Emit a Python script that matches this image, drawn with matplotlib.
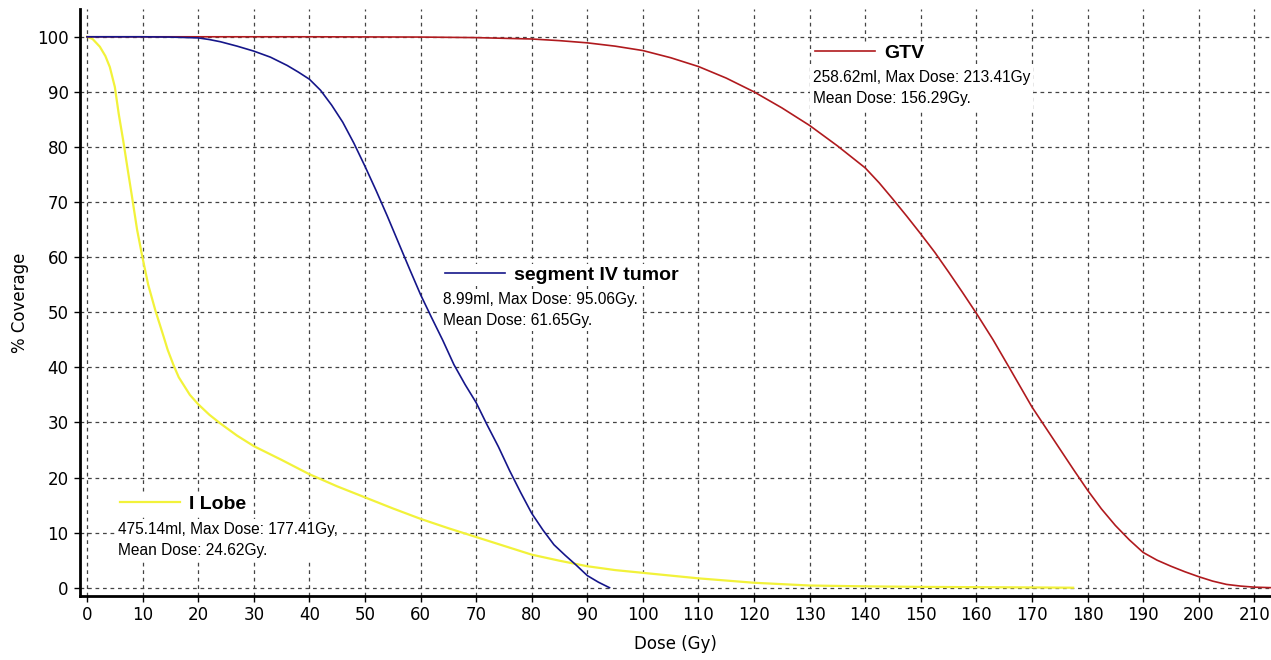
import matplotlib.pyplot as plt

# dose volume histogram values
gtv_dose = [0, 20, 40, 60, 70, 80, 85, 90, 95, 100, 105, 110, 115, 120, 125, 130,
            135, 140, 142.5, 145, 147.5, 150, 152.5, 155, 157.5, 160, 163, 166,
            168, 170, 172.5, 175, 177.5, 180, 182.5, 185, 187.5, 190, 192.5, 195,
            197.5, 200, 202.5, 205, 207.5, 210, 213.4]
gtv_cov = [100, 100, 100, 99.95, 99.85, 99.6, 99.3, 98.9, 98.3, 97.5, 96.2, 94.6,
           92.5, 90.0, 87.1, 83.9, 80.2, 76.2, 73.5, 70.5, 67.4, 64.2, 60.9, 57.3,
           53.6, 49.8, 45.0, 39.8, 36.3, 32.8, 29.0, 25.2, 21.4, 17.7, 14.3, 11.3,
           8.7, 6.4, 5.0, 3.9, 2.9, 2.0, 1.2, 0.6, 0.3, 0.1, 0]

seg_dose = [0, 10, 15, 20, 22, 24, 27, 30, 33, 36, 38, 40, 42, 44, 46, 48, 50,
            52, 54, 56, 58, 60, 62, 64, 66, 68, 70, 72, 74, 76, 78, 80, 82, 84,
            86, 88, 90, 92, 94]
seg_cov = [100, 100, 99.95, 99.8, 99.5, 99.1, 98.3, 97.4, 96.3, 94.8, 93.6, 92.3,
           90.3, 87.6, 84.5, 80.7, 76.5, 72.1, 67.5, 62.7, 57.9, 53.2, 49.0, 44.9,
           40.5, 36.9, 33.6, 29.5, 25.6, 21.3, 17.3, 13.5, 10.5, 7.8, 5.9, 4.1,
           2.2, 1.0, 0]

lobe_dose = [0, 1, 2.3, 3.3, 4.1, 5.0, 5.7, 6.5, 7.3, 8.1, 9.0, 9.9, 11.0, 12.3,
             13.8, 14.5, 15.6, 16.5, 18.5, 20, 22, 24, 27, 30, 35, 40, 45, 50, 55,
             60, 65, 70, 75, 80, 85, 90, 95, 100, 110, 120, 130, 140, 150, 160,
             170, 177.4]
lobe_cov = [100, 99.6, 98.2, 96.5, 94.5, 90.9, 86, 81.2, 76, 70.9, 65, 60.3, 55,
            50.3, 45.5, 43.2, 40.3, 38.2, 35.0, 33.3, 31.4, 29.8, 27.6, 25.7, 23.2,
            20.6, 18.4, 16.4, 14.4, 12.5, 10.8, 9.2, 7.6, 6.0, 4.9, 3.9, 3.2, 2.7,
            1.7, 0.9, 0.4, 0.25, 0.15, 0.1, 0.05, 0]

names = ["GTV", "segment IV tumor", "I Lobe"]
stats = ["258.62ml, Max Dose: 213.41Gy\nMean Dose: 156.29Gy.",
         "8.99ml, Max Dose: 95.06Gy.\nMean Dose: 61.65Gy.",
         "475.14ml, Max Dose: 177.41Gy,\nMean Dose: 24.62Gy."]
colors = ["#B01A1E", "#15168A", "#F2F23A"]

x_ticks = list(range(0, 220, 10))
y_ticks = list(range(0, 110, 10))

fig = plt.figure(figsize=(12.71, 6.6), dpi=100)
ax = fig.add_axes([0.0628, 0.097, 0.9372, 0.889])

l_gtv, = ax.plot(gtv_dose, gtv_cov, color=colors[0], lw=1.2, clip_on=False, zorder=4)
l_seg, = ax.plot(seg_dose, seg_cov, color=colors[1], lw=1.2, clip_on=False, zorder=4)
l_lobe, = ax.plot(lobe_dose, lobe_cov, color=colors[2], lw=1.6, clip_on=False, zorder=3)

ax.set_xlim(-1.3, 213)
ax.set_ylim(-1.5, 105)
ax.set_xticks(x_ticks)
ax.set_yticks(y_ticks)
ax.grid(True, linestyle=(0, (3, 3)), color="#444444", lw=0.9)
ax.set_axisbelow(True)

for side in ["top", "right"]:
    ax.spines[side].set_visible(False)
for side in ["left", "bottom"]:
    ax.spines[side].set_linewidth(2)
ax.tick_params(direction="out", length=4, width=1, labelsize=12)
ax.tick_params(axis="y", pad=4)
ax.tick_params(axis="x", pad=3)

ax.set_xlabel("Dose (Gy)", fontsize=12, labelpad=8)
ax.set_ylabel("% Coverage", fontsize=12, labelpad=6)

# key boxes: (handle, anchor dose, anchor coverage of key line, stats coverage)
keys = [(l_gtv, 130.6, 97.0, 90.7),
        (l_seg, 64.0, 56.8, 50.4),
        (l_lobe, 5.6, 15.2, 8.7)]

for i, (line, kx, ky, sy) in enumerate(keys):
    leg = ax.legend(handles=[line], labels=[names[i]], loc="center left",
                    bbox_to_anchor=(kx, ky), bbox_transform=ax.transData,
                    frameon=True, framealpha=1, facecolor="white", edgecolor="none",
                    borderpad=0.1, borderaxespad=0, handlelength=3.1,
                    handletextpad=0.45, fancybox=False,
                    prop={"family": "Liberation Sans", "weight": "bold", "size": 14})
    leg.set_zorder(5)
    ax.add_artist(leg)
    ax.text(kx, sy, stats[i], ha="left", va="center", fontsize=11.2,
            family="Liberation Sans", linespacing=1.5, zorder=5,
            bbox=dict(facecolor="white", edgecolor="none", pad=2))

fig.savefig("out.png", dpi=100)
